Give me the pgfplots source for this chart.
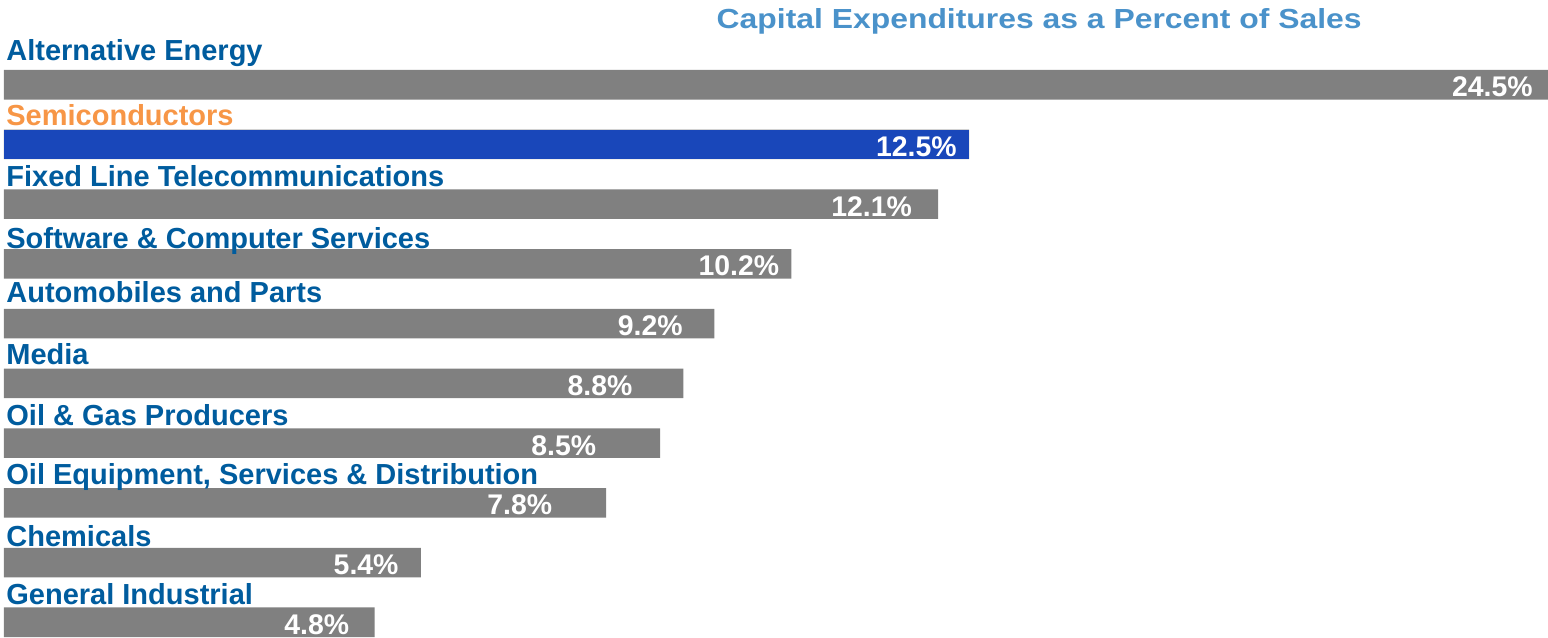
\documentclass[border=0pt]{standalone}
\usepackage{fontspec}
\setmainfont{Liberation Sans}
\usepackage{graphicx}
\usepackage{pgfplots}
\usepackage{pgfplotstable}
\pgfplotsset{compat=1.18}
\definecolor{barGray}{RGB}{128,128,128}
\definecolor{barBlue}{RGB}{25,71,186}
\definecolor{lblBlue}{RGB}{0,92,158}
\definecolor{lblOrange}{RGB}{247,150,70}
\definecolor{ttlBlue}{RGB}{74,146,202}
\protected\def\orn{\color{lblOrange}}

\pgfplotstableread[col sep=semicolon]{
idx;val;labx;ly;vlab;name
0;24.5;19.81;-0.397;24.5\%;Alternative Energy
1;12.5;12.35;0.675;12.5\%;\orn Semiconductors
2;12.1;11.77;1.696;12.1\%;Fixed Line Telecommunications
3;10.2;10.05;2.734;10.2\%;Software \& Computer Services
4;9.2;8.80;3.650;9.2\%;Automobiles and Parts
5;8.8;8.15;4.691;8.8\%;Media
6;8.5;7.68;5.709;8.5\%;Oil \& Gas Producers
7;7.8;7.11;6.685;7.8\%;Oil Equipment, Services \& Distribution
8;5.4;5.12;7.723;5.4\%;Chemicals
9;4.8;4.48;8.699;4.8\%;General Industrial
}\chartdata

\begin{document}
\begin{tikzpicture}
\begin{axis}[name=ax, width=387pt, height=159.25pt, scale only axis, hide axis,
  xmin=-0.0518, xmax=20, ymin=-1.418, ymax=9.247, y dir=reverse, clip=true]
\addplot[xbar, bar shift=0pt, bar width=7.4pt, fill=barGray, draw=none]
  table[x=val, y=idx]{\chartdata};
\addplot[xbar, bar shift=0pt, bar width=7.4pt, fill=barBlue, draw=none]
  coordinates {(12.5,1)};
% value labels
\addplot[draw=none, point meta=explicit symbolic, nodes near coords,
  every node near coord/.append style={anchor=base east, text=white, inner sep=0pt,
    font=\fontsize{7.1pt}{8pt}\selectfont\bfseries, yshift=-3pt}]
  table[x=labx, y=idx, meta=vlab]{\chartdata};
% category labels
\addplot[draw=none, point meta=explicit symbolic, nodes near coords,
  every node near coord/.append style={anchor=base west, text=lblBlue, inner sep=0pt,
    font=\fontsize{7.25pt}{8pt}\selectfont\bfseries, xshift=0.4pt}]
  table[x expr=0, y=ly, meta=name]{\chartdata};
\node[anchor=base, inner sep=0pt, text=ttlBlue, font=\fontsize{6.9pt}{8pt}\selectfont\bfseries]
  at (axis description cs:0.6713,0.956) {\scalebox{1.155}[1]{Capital Expenditures as a Percent of Sales}};
\end{axis}
\pgfresetboundingbox
\path[use as bounding box] (ax.south west) rectangle (ax.north east);
\end{tikzpicture}
\end{document}
